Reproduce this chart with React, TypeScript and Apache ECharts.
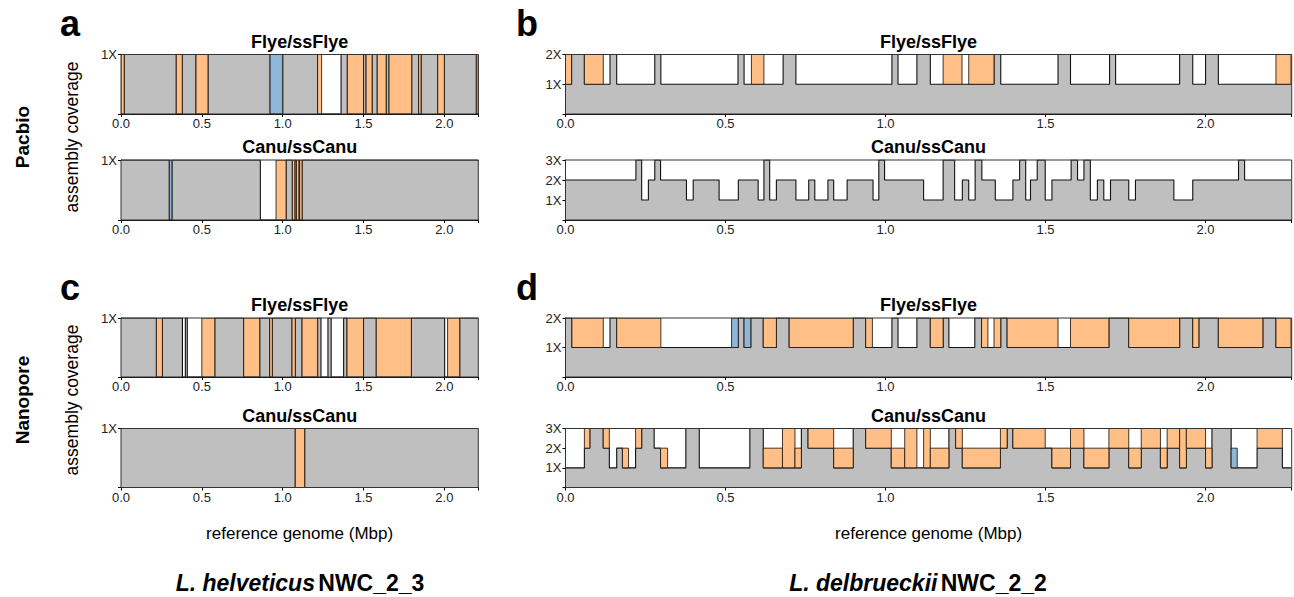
import React, { useEffect, useRef } from 'react';
import * as echarts from 'echarts';

type Col = [number, number, number, string];

// genome lengths (Mbp)
const helvLength = 2.21;
const delbLength = 2.267;
const covLabels = ['1X', '2X', '3X'];
const assemblerTitles = ['Flye/ssFlye', 'Canu/ssCanu'];
const platformLabels = ['Pacbio', 'Nanopore'];
const panelLetters = ['a', 'b', 'c', 'd'];
const species = [
  ['L. helveticus', 'NWC_2_3'],
  ['L. delbrueckii', 'NWC_2_2'],
];

// columns: [start Mbp, end Mbp, gray coverage, layers above gray (o orange, b blue, w white)]
const aFlye: Col[] = [
  [0.0, 0.02, 0, 'o'],
  [0.342, 0.379, 0, 'o'],
  [0.464, 0.538, 0, 'o'],
  [0.922, 1.0, 0, 'b'],
  [1.216, 1.241, 0, 'o'],
  [1.241, 1.361, 0, 'w'],
  [1.4, 1.5, 0, 'o'],
  [1.516, 1.553, 0, 'o'],
  [1.585, 1.64, 0, 'o'],
  [1.658, 1.798, 0, 'o'],
  [1.841, 1.856, 0, 'o'],
  [1.959, 2.0, 0, 'o'],
  [2.198, 2.21, 0, 'o'],
];
const aCanu: Col[] = [
  [0.299, 0.315, 0, 'b'],
  [0.862, 0.959, 0, 'w'],
  [0.959, 1.021, 0, 'o'],
  [1.06, 1.075, 0, 'o'],
  [1.085, 1.1, 0, 'o'],
  [1.105, 1.12, 0, 'o'],
];
const cFlye: Col[] = [
  [0.219, 0.256, 0, 'o'],
  [0.38, 0.398, 0, 'w'],
  [0.41, 0.5, 0, 'w'],
  [0.5, 0.58, 0, 'o'],
  [0.759, 0.858, 0, 'o'],
  [0.92, 0.936, 0, 'o'],
  [1.058, 1.078, 0, 'o'],
  [1.12, 1.216, 0, 'o'],
  [1.237, 1.28, 0, 'w'],
  [1.3, 1.377, 0, 'w'],
  [1.398, 1.5, 0, 'o'],
  [1.579, 1.796, 0, 'o'],
  [2.002, 2.02, 0, 'w'],
  [2.02, 2.095, 0, 'o'],
];
const cCanu: Col[] = [[1.078, 1.136, 0, 'o']];
const bFlye: Col[] = [
  [0.0, 0.019, 1, 'o'],
  [0.059, 0.118, 1, 'o'],
  [0.118, 0.139, 1, 'w'],
  [0.16, 0.279, 1, 'w'],
  [0.298, 0.539, 1, 'w'],
  [0.558, 0.581, 1, 'w'],
  [0.581, 0.62, 1, 'o'],
  [0.62, 0.68, 1, 'w'],
  [0.72, 1.02, 1, 'w'],
  [1.039, 1.098, 1, 'w'],
  [1.14, 1.18, 1, 'w'],
  [1.18, 1.239, 1, 'o'],
  [1.239, 1.26, 1, 'w'],
  [1.26, 1.339, 1, 'o'],
  [1.36, 1.539, 1, 'w'],
  [1.578, 1.7, 1, 'w'],
  [1.719, 1.919, 1, 'w'],
  [1.96, 2.0, 1, 'w'],
  [2.04, 2.22, 1, 'w'],
  [2.22, 2.267, 1, 'o'],
];
const bCanu: Col[] = [
  [0, 0.22, 2, ''], [0.22, 0.238, 3, ''], [0.238, 0.259, 1, ''], [0.259, 0.279, 2, ''],
  [0.279, 0.297, 3, ''], [0.297, 0.378, 2, ''], [0.378, 0.399, 1, ''], [0.399, 0.48, 2, ''],
  [0.48, 0.54, 1, ''], [0.54, 0.602, 2, ''], [0.602, 0.62, 1, ''], [0.62, 0.638, 3, ''],
  [0.638, 0.659, 1, ''], [0.659, 0.72, 2, ''], [0.72, 0.76, 1, ''], [0.76, 0.779, 2, ''],
  [0.779, 0.82, 1, ''], [0.82, 0.838, 2, ''], [0.838, 0.88, 1, ''], [0.88, 0.961, 2, ''],
  [0.961, 0.979, 1, ''], [0.979, 0.997, 3, ''], [0.997, 1.119, 2, ''], [1.119, 1.18, 1, ''],
  [1.18, 1.216, 3, ''], [1.216, 1.24, 1, ''], [1.24, 1.26, 2, ''], [1.26, 1.28, 1, ''],
  [1.28, 1.301, 3, ''], [1.301, 1.343, 2, ''], [1.343, 1.398, 1, ''], [1.398, 1.419, 2, ''],
  [1.419, 1.438, 3, ''], [1.438, 1.453, 1, ''], [1.453, 1.474, 2, ''], [1.474, 1.499, 3, ''],
  [1.499, 1.52, 1, ''], [1.52, 1.58, 2, ''], [1.58, 1.6, 3, ''], [1.6, 1.62, 2, ''],
  [1.62, 1.64, 3, ''], [1.64, 1.662, 1, ''], [1.662, 1.682, 2, ''], [1.682, 1.703, 1, ''],
  [1.703, 1.76, 2, ''], [1.76, 1.781, 1, ''], [1.781, 1.901, 2, ''], [1.901, 1.96, 1, ''],
  [1.96, 2.103, 2, ''], [2.103, 2.122, 3, ''], [2.122, 2.267, 2, ''],
];
const dFlye: Col[] = [
  [0.02, 0.118, 1, 'o'],
  [0.118, 0.139, 1, 'w'],
  [0.16, 0.298, 1, 'o'],
  [0.298, 0.519, 1, 'w'],
  [0.519, 0.54, 1, 'b'],
  [0.558, 0.579, 1, 'b'],
  [0.618, 0.659, 1, 'o'],
  [0.699, 0.899, 1, 'o'],
  [0.938, 0.959, 1, 'o'],
  [0.959, 1.02, 1, 'w'],
  [1.039, 1.098, 1, 'w'],
  [1.14, 1.18, 1, 'o'],
  [1.198, 1.279, 1, 'w'],
  [1.3, 1.32, 1, 'o'],
  [1.32, 1.339, 1, 'w'],
  [1.339, 1.36, 1, 'o'],
  [1.38, 1.539, 1, 'o'],
  [1.539, 1.578, 1, 'w'],
  [1.578, 1.698, 1, 'o'],
  [1.76, 1.919, 1, 'o'],
  [1.96, 1.979, 1, 'o'],
  [2.04, 2.179, 1, 'o'],
  [2.22, 2.267, 1, 'o'],
];
const dCanu: Col[] = [
  [0, 0.059, 1, 'ww'], [0.059, 0.076, 2, 'o'], [0.118, 0.137, 2, 'o'], [0.137, 0.16, 1, 'ww'],
  [0.16, 0.178, 2, 'w'], [0.178, 0.197, 1, 'ow'], [0.197, 0.219, 1, 'ww'], [0.219, 0.238, 2, 'o'],
  [0.277, 0.297, 2, 'w'], [0.297, 0.319, 1, 'ow'], [0.319, 0.376, 1, 'ww'], [0.418, 0.576, 1, 'ww'],
  [0.618, 0.678, 1, 'ow'], [0.678, 0.717, 1, 'oo'], [0.717, 0.737, 1, 'ow'], [0.758, 0.838, 2, 'o'],
  [0.838, 0.899, 1, 'ow'], [0.938, 1.018, 2, 'o'], [1.018, 1.06, 1, 'ow'], [1.06, 1.098, 1, 'oo'],
  [1.098, 1.119, 1, 'ww'], [1.119, 1.14, 1, 'oo'], [1.14, 1.198, 1, 'ow'], [1.219, 1.24, 2, 'o'],
  [1.24, 1.359, 1, 'ow'], [1.359, 1.38, 2, 'o'], [1.398, 1.499, 2, 'o'], [1.499, 1.52, 2, 'w'],
  [1.52, 1.578, 1, 'ow'], [1.578, 1.62, 2, 'o'], [1.62, 1.698, 1, 'ow'], [1.698, 1.76, 2, 'o'],
  [1.76, 1.799, 1, 'ow'], [1.799, 1.859, 2, 'o'], [1.859, 1.88, 1, 'ow'], [1.88, 1.919, 2, 'o'],
  [1.919, 1.94, 1, 'oo'], [1.94, 2.0, 2, 'o'], [2.0, 2.02, 1, 'ow'], [2.08, 2.099, 1, 'bw'],
  [2.099, 2.161, 1, 'ww'], [2.161, 2.24, 2, 'o'], [2.24, 2.267, 1, 'ww'],
];

const FONT = '"Liberation Sans", Arial, Helvetica, sans-serif';
const ORANGE = '#ffbf86';
const BLUE = '#8db6d8';
const GRAY = '#bfbfbf';
const EDGE = 'rgba(35,25,15,0.85)';

const LEFTCOL = { left: 121, width: 357.3 };
const RIGHTCOL = { left: 565.5, width: 726.2 };
const ROWS = [
  { top: 54.5, height: 59.5 },
  { top: 160, height: 60 },
  { top: 318, height: 59 },
  { top: 428.5, height: 59 },
];

const panels = [
  { cols: aFlye, xmax: helvLength, ymax: 1, col: LEFTCOL, row: 0, title: 0 },
  { cols: aCanu, xmax: helvLength, ymax: 1, col: LEFTCOL, row: 1, title: 1 },
  { cols: cFlye, xmax: helvLength, ymax: 1, col: LEFTCOL, row: 2, title: 0 },
  { cols: cCanu, xmax: helvLength, ymax: 1, col: LEFTCOL, row: 3, title: 1 },
  { cols: bFlye, xmax: delbLength, ymax: 2, col: RIGHTCOL, row: 0, title: 0 },
  { cols: bCanu, xmax: delbLength, ymax: 3, col: RIGHTCOL, row: 1, title: 1 },
  { cols: dFlye, xmax: delbLength, ymax: 2, col: RIGHTCOL, row: 2, title: 0 },
  { cols: dCanu, xmax: delbLength, ymax: 3, col: RIGHTCOL, row: 3, title: 1 },
];

function grayPoints(cols: Col[], xmax: number, ymax: number) {
  const s = [...cols].sort((a, b) => a[0] - b[0]);
  const pts: number[][] = [];
  let cur = 0;
  for (const c of s) {
    if (c[0] > cur + 1e-6) pts.push([cur, ymax], [c[0], ymax]);
    pts.push([c[0], c[2]], [c[1], c[2]]);
    cur = c[1];
  }
  if (cur < xmax - 1e-6) pts.push([cur, ymax], [xmax, ymax]);
  return pts;
}

function layerRects(cols: Col[]) {
  const out: number[][] = [];
  for (const [x0, x1, g, layers] of cols) {
    let i = 0;
    while (i < layers.length) {
      const k = layers[i];
      let j = i;
      while (j + 1 < layers.length && layers[j + 1] === k) j++;
      if (k === 'o' || k === 'b') out.push([x0, x1, g + i, g + j + 1, k === 'o' ? 0 : 1]);
      i = j + 1;
    }
  }
  return out;
}

function buildOption() {
  const grid: any[] = [];
  const xAxis: any[] = [];
  const yAxis: any[] = [];
  const series: any[] = [];
  const graphic: any[] = [];

  panels.forEach((p, i) => {
    const r = ROWS[p.row];
    grid.push({ left: p.col.left, top: r.top, width: p.col.width, height: r.height, containLabel: false });
    xAxis.push({
      type: 'value', gridIndex: i, min: 0, max: p.xmax, interval: 0.5,
      axisLine: { show: true, lineStyle: { color: '#000', width: 1 } },
      axisTick: { show: true, length: 3, lineStyle: { color: '#000' } },
      axisLabel: {
        fontSize: 13, color: '#222', margin: 3, fontFamily: FONT,
        formatter: (v: number) => (Math.abs(v * 2 - Math.round(v * 2)) < 1e-6 ? v.toFixed(1) : ''),
      },
      splitLine: { show: false },
    });
    yAxis.push({
      type: 'value', gridIndex: i, min: 0, max: p.ymax, interval: 1,
      axisLine: { show: true, lineStyle: { color: '#000', width: 1 } },
      axisTick: { show: true, length: 3, lineStyle: { color: '#000' } },
      axisLabel: {
        fontSize: 13, color: '#222', margin: 4, fontFamily: FONT,
        formatter: (v: number) => (v > 0 ? covLabels[Math.round(v) - 1] : ''),
      },
      splitLine: { show: false },
    });
    series.push({
      type: 'line', xAxisIndex: i, yAxisIndex: i, data: grayPoints(p.cols, p.xmax, p.ymax),
      showSymbol: false, symbol: 'none', silent: true, z: 2,
      lineStyle: { color: '#111', width: 1.1 },
      areaStyle: { color: GRAY, opacity: 1 },
    });
    series.push({
      type: 'custom', xAxisIndex: i, yAxisIndex: i, data: layerRects(p.cols), silent: true, z: 3, clip: true,
      encode: { x: [0, 1], y: [2, 3] },
      renderItem: (_params: any, api: any) => {
        const p0 = api.coord([api.value(0), api.value(2)]);
        const p1 = api.coord([api.value(1), api.value(3)]);
        return {
          type: 'rect',
          shape: { x: p0[0], y: p1[1], width: p1[0] - p0[0], height: p0[1] - p1[1] },
          style: { fill: api.value(4) ? BLUE : ORANGE, stroke: EDGE, lineWidth: 1 },
        };
      },
    });
    graphic.push({
      type: 'rect', z: 100, silent: true,
      shape: { x: p.col.left, y: r.top, width: p.col.width, height: r.height },
      style: { fill: 'none', stroke: '#333', lineWidth: 1 },
    });
    graphic.push({
      type: 'text', z: 100, silent: true,
      x: p.col.left + p.col.width / 2, y: r.top - 13,
      style: {
        text: assemblerTitles[p.title], font: `bold 18px ${FONT}`, fill: '#000',
        textAlign: 'center', textVerticalAlign: 'middle',
      },
    });
  });

  const letterPos = [[70, 23], [527, 23], [70, 287], [527, 287]];
  panelLetters.forEach((l, i) => {
    graphic.push({
      type: 'text', z: 100, x: letterPos[i][0], y: letterPos[i][1],
      style: { text: l, font: `bold 36px ${FONT}`, fill: '#000', textAlign: 'center', textVerticalAlign: 'middle' },
    });
  });
  [137, 400].forEach((cy, i) => {
    graphic.push({
      type: 'text', z: 100, x: 72, y: cy, rotation: Math.PI / 2,
      style: { text: 'assembly coverage', font: `17.5px ${FONT}`, fill: '#000', textAlign: 'center', textVerticalAlign: 'middle' },
    });
    graphic.push({
      type: 'text', z: 100, x: 22, y: cy, rotation: Math.PI / 2,
      style: { text: platformLabels[i], font: `bold 19px ${FONT}`, fill: '#000', textAlign: 'center', textVerticalAlign: 'middle' },
    });
  });
  [LEFTCOL, RIGHTCOL].forEach((c, i) => {
    graphic.push({
      type: 'text', z: 100, x: c.left + c.width / 2, y: 533,
      style: { text: 'reference genome (Mbp)', font: `17px ${FONT}`, fill: '#000', textAlign: 'center', textVerticalAlign: 'middle' },
    });
    graphic.push({
      type: 'text', z: 100, x: i === 0 ? 300 : 918, y: 583,
      style: {
        text: `{i|${species[i][0]}} {b|${species[i][1]}}`,
        textAlign: 'center', textVerticalAlign: 'middle',
        rich: {
          i: { fontFamily: FONT, fontSize: 23, fontWeight: 'bold', fontStyle: 'italic', fill: '#000' },
          b: { fontFamily: FONT, fontSize: 23, fontWeight: 'bold', fill: '#000' },
        },
      },
    });
  });

  return { animation: false, backgroundColor: '#fff', grid, xAxis, yAxis, series, graphic };
}

export default function App() {
  const ref = useRef<HTMLDivElement>(null);
  useEffect(() => {
    document.body.style.margin = '0';
    const chart = echarts.init(ref.current!, null, { renderer: 'svg' });
    chart.setOption(buildOption() as any);
    return () => chart.dispose();
  }, []);
  return <div ref={ref} style={{ width: 1294, height: 597 }} />;
}
